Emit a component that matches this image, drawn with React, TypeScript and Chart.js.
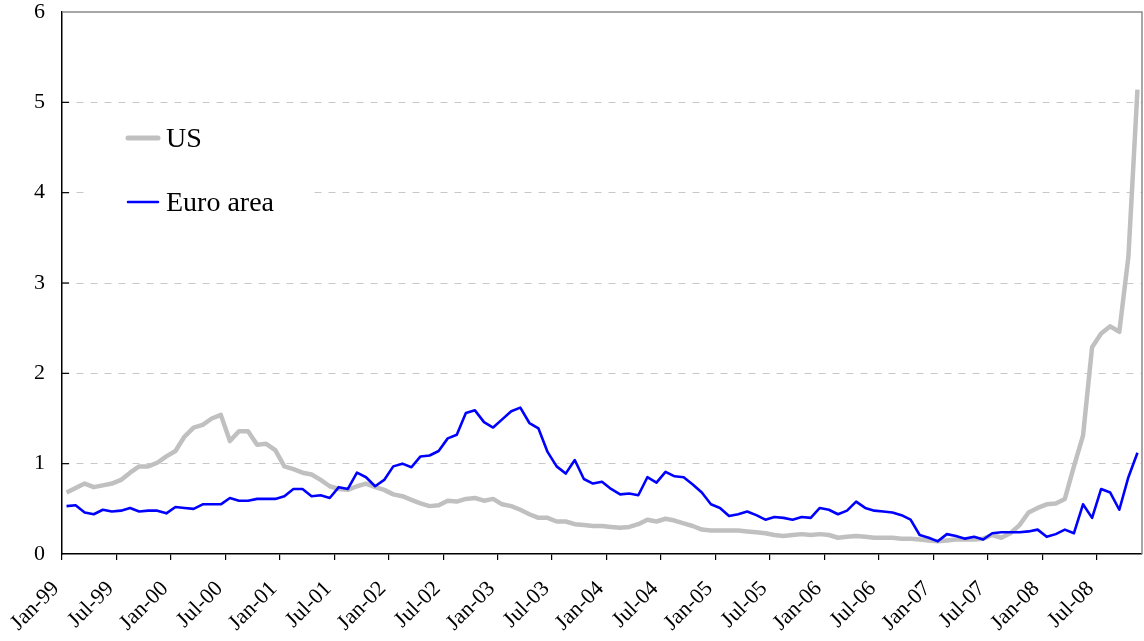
import React, { useEffect, useRef } from 'react';
import { Chart, registerables } from 'chart.js';

Chart.register(...registerables);

// Tick labels on the x axis (one every six months, starting Jan-99)
const tickLabels = [
  'Jan-99', 'Jul-99', 'Jan-00', 'Jul-00', 'Jan-01', 'Jul-01', 'Jan-02', 'Jul-02',
  'Jan-03', 'Jul-03', 'Jan-04', 'Jul-04', 'Jan-05', 'Jul-05', 'Jan-06', 'Jul-06',
  'Jan-07', 'Jul-07', 'Jan-08', 'Jul-08',
];
const monthsPerTick = 6;
const totalMonths = 119; // Jan-99 .. Nov-08

const seriesNames = ['US', 'Euro area'];

// Monthly values, Jan-99 .. Nov-08
const usValues = [
  0.68, 0.73, 0.78, 0.74, 0.76, 0.78, 0.82, 0.90, 0.97, 0.97, 1.01, 1.08,
  1.14, 1.30, 1.40, 1.43, 1.50, 1.54, 1.25, 1.36, 1.36, 1.21, 1.22, 1.15,
  0.97, 0.94, 0.90, 0.88, 0.82, 0.75, 0.72, 0.71, 0.75, 0.78, 0.74, 0.71,
  0.66, 0.64, 0.60, 0.56, 0.53, 0.54, 0.59, 0.58, 0.61, 0.62, 0.59, 0.61,
  0.55, 0.53, 0.49, 0.44, 0.40, 0.40, 0.36, 0.36, 0.33, 0.32, 0.31, 0.31,
  0.30, 0.29, 0.30, 0.33, 0.38, 0.36, 0.39, 0.37, 0.34, 0.31, 0.27, 0.26,
  0.26, 0.26, 0.26, 0.25, 0.24, 0.23, 0.21, 0.20, 0.21, 0.22, 0.21, 0.22,
  0.21, 0.18, 0.19, 0.20, 0.19, 0.18, 0.18, 0.18, 0.17, 0.17, 0.16, 0.15,
  0.14, 0.15, 0.16, 0.16, 0.16, 0.17, 0.21, 0.18, 0.23, 0.32, 0.46, 0.51,
  0.55, 0.56, 0.61, 0.97, 1.31, 2.29, 2.44, 2.52, 2.46, 3.29, 5.14,
];
const euroValues = [
  0.53, 0.54, 0.46, 0.44, 0.49, 0.47, 0.48, 0.51, 0.47, 0.48, 0.48, 0.45,
  0.52, 0.51, 0.50, 0.55, 0.55, 0.55, 0.62, 0.59, 0.59, 0.61, 0.61, 0.61,
  0.64, 0.72, 0.72, 0.64, 0.65, 0.62, 0.74, 0.72, 0.90, 0.85, 0.75, 0.82,
  0.97, 1.00, 0.96, 1.08, 1.09, 1.14, 1.28, 1.32, 1.56, 1.59, 1.46, 1.40,
  1.49, 1.58, 1.62, 1.45, 1.39, 1.13, 0.97, 0.89, 1.04, 0.83, 0.78, 0.80,
  0.72, 0.66, 0.67, 0.65, 0.85, 0.79, 0.91, 0.86, 0.85, 0.77, 0.68, 0.55,
  0.51, 0.42, 0.44, 0.47, 0.43, 0.38, 0.41, 0.40, 0.38, 0.41, 0.40, 0.51,
  0.49, 0.44, 0.48, 0.58, 0.51, 0.48, 0.47, 0.46, 0.43, 0.38, 0.21, 0.18,
  0.14, 0.22, 0.20, 0.17, 0.19, 0.16, 0.23, 0.24, 0.24, 0.24, 0.25, 0.27,
  0.19, 0.22, 0.27, 0.23, 0.55, 0.40, 0.72, 0.68, 0.49, 0.85, 1.12,
];

const yMin = 0;
const yMax = 6;

const SERIF = "'Liberation Serif', 'Times New Roman', serif";
const US_COLOR = '#c0c0c0';
const EURO_COLOR = '#0000ff';

const decorPlugin = {
  id: 'decor',
  beforeDatasetsDraw(chart: any) {
    const { ctx, chartArea } = chart;
    const left = chartArea.left;
    const top = chartArea.top;
    ctx.save();
    // legend background box
    ctx.fillStyle = '#ffffff';
    ctx.fillRect(left + 25, top + 100, 226, 120);
    const items = [
      { name: seriesNames[0], color: US_COLOR, width: 5, y: top + 126 },
      { name: seriesNames[1], color: EURO_COLOR, width: 2.5, y: top + 190 },
    ];
    ctx.font = `28px ${SERIF}`;
    ctx.textBaseline = 'middle';
    ctx.textAlign = 'left';
    items.forEach((it) => {
      ctx.beginPath();
      ctx.strokeStyle = it.color;
      ctx.lineWidth = it.width;
      ctx.lineCap = 'round';
      ctx.moveTo(left + 66, it.y);
      ctx.lineTo(left + 96, it.y);
      ctx.stroke();
      ctx.fillStyle = '#000000';
      ctx.fillText(it.name, left + 104, it.y + 2);
    });
    ctx.restore();
  },
  afterDraw(chart: any) {
    const { ctx, chartArea, scales } = chart;
    ctx.save();
    // gray top and right frame
    ctx.strokeStyle = '#8a8a8a';
    ctx.lineWidth = 1.5;
    ctx.beginPath();
    ctx.moveTo(chartArea.left, chartArea.top);
    ctx.lineTo(chartArea.right, chartArea.top);
    ctx.lineTo(chartArea.right, chartArea.bottom);
    ctx.stroke();
    // inward y tick marks
    ctx.strokeStyle = '#000000';
    ctx.lineWidth = 1.2;
    for (let v = yMin + 1; v < yMax; v++) {
      const y = scales.y.getPixelForValue(v);
      ctx.beginPath();
      ctx.moveTo(chartArea.left, y);
      ctx.lineTo(chartArea.left + 7, y);
      ctx.stroke();
    }
    ctx.restore();
  },
};

export default function App() {
  const canvasRef = useRef<HTMLCanvasElement | null>(null);

  useEffect(() => {
    if (!canvasRef.current) return;
    const toPoints = (vals: number[]) => vals.map((v, i) => ({ x: i + 0.5, y: v }));
    const chart = new Chart(canvasRef.current, {
      type: 'line',
      data: {
        datasets: [
          {
            label: seriesNames[0],
            data: toPoints(usValues),
            borderColor: US_COLOR,
            borderWidth: 4.5,
            pointRadius: 0,
            tension: 0,
            borderJoinStyle: 'round',
            order: 2,
          },
          {
            label: seriesNames[1],
            data: toPoints(euroValues),
            borderColor: EURO_COLOR,
            borderWidth: 2.6,
            pointRadius: 0,
            tension: 0,
            borderJoinStyle: 'round',
            order: 1,
          },
        ],
      },
      options: {
        animation: false,
        responsive: true,
        maintainAspectRatio: false,
        layout: { padding: { top: 12, right: 2, left: 0, bottom: 0 } },
        plugins: {
          legend: { display: false },
          tooltip: { enabled: false },
        },
        scales: {
          x: {
            type: 'linear',
            min: 0,
            max: totalMonths,
            afterBuildTicks: (s: any) => {
              s.ticks = tickLabels.map((_, i) => ({ value: i * monthsPerTick }));
            },
            afterFit: (s: any) => {
              s.height = 87;
              s.paddingLeft = 0;
              s.paddingRight = 0;
            },
            ticks: {
              autoSkip: false,
              maxRotation: 45,
              minRotation: 45,
              padding: 16,
              labelOffset: -6,
              color: '#000000',
              font: { family: SERIF, size: 22 },
              callback: (v: any) => tickLabels[Math.round(Number(v) / monthsPerTick)] ?? '',
            },
            grid: {
              drawOnChartArea: false,
              drawTicks: true,
              tickLength: 6,
              color: '#000000',
              lineWidth: 1.2,
            },
            border: { display: true, color: '#000000', width: 1.5 },
          },
          y: {
            min: yMin,
            max: yMax,
            afterFit: (s: any) => {
              s.width = 62;
              s.paddingTop = 0;
              s.paddingBottom = 0;
            },
            ticks: {
              stepSize: 1,
              padding: 17,
              color: '#000000',
              font: { family: SERIF, size: 22 },
            },
            grid: {
              drawTicks: false,
              lineWidth: 1,
              color: (c: any) =>
                c.tick && c.tick.value > yMin && c.tick.value < yMax ? '#c8c8c8' : 'rgba(0,0,0,0)',
            },
            border: { display: true, color: '#000000', width: 1.5, dash: [7, 7] },
          },
        },
      },
      plugins: [decorPlugin],
    });
    return () => chart.destroy();
  }, []);

  return (
    <div style={{ position: 'fixed', left: 0, top: 0, width: 1144, height: 641, background: '#ffffff' }}>
      <canvas ref={canvasRef} />
    </div>
  );
}
